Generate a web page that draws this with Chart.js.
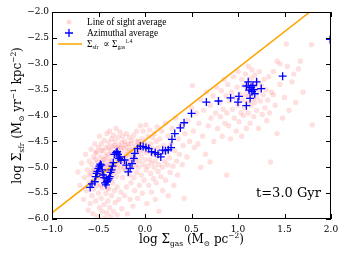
<!DOCTYPE html>
<html>
<head>
<meta charset="utf-8">
<script src="https://cdn.jsdelivr.net/npm/chart.js@4.4.0/dist/chart.umd.min.js"></script>
<style>
html,body{margin:0;padding:0;background:#fff;}
#wrap{width:346px;height:259px;position:relative;}
</style>
</head>
<body>
<div id="wrap"><canvas id="c" width="346" height="259"></canvas></div>
<script>
// ---- DATA ----
const xTickValues = [-1.0, -0.5, 0.0, 0.5, 1.0, 1.5, 2.0];
const yTickValues = [-6.0, -5.5, -5.0, -4.5, -4.0, -3.5, -3.0, -2.5, -2.0];

// Line of sight average (pink)
const losX = [
-0.72,-0.70,-0.68,-0.66,-0.65,-0.64,-0.63,-0.62,-0.61,-0.60,-0.60,-0.59,-0.58,-0.58,-0.57,-0.57,-0.56,-0.56,-0.55,-0.55,
-0.54,-0.54,-0.53,-0.53,-0.52,-0.52,-0.51,-0.51,-0.50,-0.50,-0.50,-0.49,-0.49,-0.48,-0.48,-0.47,-0.47,-0.46,-0.46,-0.46,-0.45,-0.45,-0.44,-0.44,-0.43,-0.43,-0.43,-0.42,-0.42,-0.42,-0.41,-0.41,-0.40,-0.40,-0.40,
-0.39,-0.39,-0.39,-0.38,-0.38,-0.37,-0.37,-0.37,-0.36,-0.36,-0.36,-0.35,-0.35,-0.34,-0.34,-0.34,-0.33,-0.33,-0.32,-0.32,-0.32,-0.31,-0.31,-0.30,-0.30,-0.30,-0.29,-0.29,-0.28,-0.28,-0.28,-0.27,-0.27,-0.26,-0.26,-0.25,-0.25,-0.25,
-0.24,-0.24,-0.23,-0.23,-0.22,-0.22,-0.21,-0.21,-0.20,-0.20,-0.19,-0.19,-0.18,-0.18,-0.17,-0.17,-0.16,-0.16,-0.15,-0.15,-0.14,-0.14,-0.13,-0.13,-0.12,-0.12,-0.11,-0.11,-0.10,-0.10,-0.09,-0.09,-0.08,-0.08,-0.07,-0.07,-0.06,-0.06,-0.05,-0.05,
-0.04,-0.04,-0.03,-0.03,-0.02,-0.02,-0.01,-0.01,0.00,0.00,0.01,0.01,0.02,0.02,0.03,0.03,0.04,0.04,0.05,0.05,0.06,0.06,0.07,0.07,0.08,0.08,0.09,0.09,0.10,0.10,0.11,0.11,0.12,0.12,0.13,0.13,0.14,0.14,0.15,0.15,
0.16,0.17,0.17,0.18,0.19,0.19,0.20,0.21,0.22,0.22,0.23,0.24,0.25,0.25,0.26,0.27,0.28,0.29,0.30,0.31,0.32,0.33,0.34,0.35,0.36,0.37,0.38,0.40,0.41,0.42,0.43,0.45,
0.46,0.48,0.50,0.52,0.53,0.55,0.57,0.58,0.60,0.62,0.63,0.65,0.66,0.68,0.70,0.71,0.73,0.74,0.76,0.77,0.78,0.80,0.81,0.82,0.83,0.84,0.85,0.86,0.88,0.70,0.60,0.51,
0.87,0.88,0.89,0.90,0.91,0.92,0.93,0.94,0.95,0.96,0.97,0.98,0.99,1.00,1.00,1.01,1.02,1.03,1.04,1.04,1.05,1.06,1.06,1.07,1.08,1.08,1.09,1.10,1.10,1.11,1.11,1.12,1.12,1.13,1.13,1.14,1.14,1.15,1.15,1.16,1.16,1.17,1.17,1.18,1.18,1.19,1.20,1.20,1.21,1.22,1.22,1.23,1.24,1.25,1.26,1.27,1.28,1.29,1.30,1.31,1.32,1.33,1.34,1.35,1.36,
1.38,1.40,1.42,1.45,1.48,1.50,1.52,1.53,1.55,1.58,1.60,1.62,1.65,1.67,1.70,1.79,1.80,1.45,1.38,1.42,
-0.53,-0.51,-0.49,-0.47,-0.45,-0.44,-0.42,-0.41,-0.39,-0.38,-0.36,-0.35,-0.33,-0.31,-0.30,-0.29,-0.27,-0.26,-0.24,-0.23,-0.21,-0.20,-0.18,-0.17,-0.15,-0.14,-0.12,-0.10,-0.08,-0.06,-0.48,-0.44,-0.40,-0.36,-0.33,-0.46,-0.52,-0.56,-0.60,-0.38
];
const losY = [
-5.09,-5.35,-4.92,-5.62,-5.20,-4.75,-5.45,-5.05,-5.83,-4.88,-5.30,-5.70,-4.65,-5.12,-5.55,-4.95,-5.90,-5.25,-4.80,-5.42,
-4.55,-5.05,-5.65,-4.85,-5.35,-4.70,-5.95,-5.15,-4.62,-4.98,-5.50,-4.40,-5.78,-4.80,-5.22,-4.55,-5.60,-4.92,-5.40,-5.85,-4.68,-5.10,-4.48,-5.72,-4.85,-5.30,-5.98,-4.62,-5.05,-5.50,-4.35,-5.88,-4.75,-5.20,-5.65,
-4.52,-4.95,-5.42,-4.30,-5.78,-4.68,-5.12,-5.95,-4.45,-4.88,-5.55,-4.60,-5.30,-4.38,-5.02,-5.85,-4.72,-5.45,-4.50,-4.95,-5.68,-4.25,-5.18,-4.62,-5.38,-5.92,-4.42,-4.85,-4.58,-5.08,-5.62,-4.32,-4.78,-4.98,-5.48,-4.52,-4.70,-5.80,
-4.40,-5.20,-4.62,-4.90,-5.55,-4.50,-4.80,-5.05,-4.35,-5.38,-4.68,-5.90,-4.55,-4.95,-5.15,-4.42,-5.62,-4.75,-4.88,-5.30,-4.48,-5.02,-4.65,-5.75,-4.38,-5.20,-4.82,-5.45,-4.58,-4.95,-4.30,-5.10,-4.72,-5.60,-4.50,-5.00,-4.88,-5.35,-4.62,-4.20,
-4.78,-5.15,-4.45,-5.50,-4.95,-4.30,-4.68,-5.25,-4.52,-4.85,-5.05,-4.18,-4.72,-5.70,-4.40,-4.98,-5.35,-4.60,-4.85,-4.28,-5.12,-4.55,-4.92,-5.48,-4.42,-4.75,-5.22,-4.65,-4.35,-5.00,-4.88,-5.62,-4.50,-5.30,-4.78,-4.22,-5.08,-4.62,-4.95,-5.85,
-4.45,-5.18,-4.72,-4.30,-5.00,-5.45,-4.58,-4.88,-4.15,-5.25,-4.70,-4.95,-4.40,-5.55,-4.82,-5.10,-4.55,-4.25,-4.98,-5.35,-4.68,-4.05,-4.88,-5.15,-4.45,-4.75,-4.20,-4.95,-4.58,-5.60,-4.35,-4.80,
-4.10,-4.50,-3.85,-4.30,-4.62,-3.95,-4.55,-4.15,-3.70,-4.40,-3.90,-4.75,-3.55,-4.20,-3.80,-4.05,-3.62,-4.50,-3.95,-3.45,-4.25,-3.75,-4.02,-3.52,-4.40,-3.88,-3.30,-4.15,-5.15,-4.90,-5.00,-3.42,
-3.62,-3.95,-3.40,-4.20,-3.72,-4.45,-3.55,-3.88,-3.25,-4.05,-3.65,-4.30,-3.45,-3.80,-3.15,-4.12,-3.58,-3.95,-3.30,-4.40,-3.70,-3.42,-4.00,-3.85,-3.20,-3.60,-4.25,-3.50,-3.75,-3.05,-3.95,-3.38,-3.62,-4.15,-3.48,-3.28,-3.80,-3.55,-3.12,-3.68,-3.40,-4.02,-3.58,-3.22,-3.75,-3.45,-3.65,-3.90,-3.35,-4.25,-3.52,-3.15,-3.72,-3.42,-3.98,-3.60,-3.30,-3.85,-3.50,-4.10,-3.70,-3.25,-3.95,-4.90,-3.55,
-3.15,-3.80,-2.95,-3.40,-4.05,-3.65,-2.62,-3.05,-3.90,-3.35,-3.20,-3.75,-3.10,-2.95,-3.55,-2.63,-4.18,-3.00,-3.60,-4.35,
-4.72,-4.90,-5.08,-4.68,-4.85,-5.02,-4.78,-4.95,-4.62,-5.05,-4.75,-4.92,-4.58,-4.82,-5.00,-4.68,-4.90,-4.62,-4.85,-5.02,-4.58,-4.75,-4.88,-4.65,-4.55,-4.80,-4.70,-4.85,-4.50,-4.68,-5.35,-5.25,-5.40,-5.22,-5.10,-5.15,-5.20,-5.05,-5.15,-4.85
];

// Azimuthal average (blue crosses)
const aziX = [
-0.59,-0.57,-0.54,-0.53,-0.52,-0.51,-0.50,-0.49,-0.48,-0.47,-0.46,-0.45,-0.44,-0.43,-0.42,-0.41,-0.40,-0.39,-0.38,-0.37,
-0.36,-0.35,-0.34,-0.33,-0.31,-0.30,-0.29,-0.28,-0.27,-0.26,-0.22,-0.20,-0.18,-0.16,-0.14,-0.12,-0.11,-0.08,-0.05,-0.02,
0.01,0.04,0.07,0.11,0.14,0.17,0.19,0.22,0.25,0.28,0.29,0.32,0.38,0.42,0.50,0.66,0.79,0.92,1.00,1.01,
1.09,1.09,1.11,1.12,1.13,1.14,1.15,1.16,1.17,1.18,1.20,1.25,1.48,1.99
];
const aziY = [
-5.39,-5.32,-5.28,-5.18,-5.12,-5.08,-5.02,-4.98,-4.94,-4.96,-5.05,-5.15,-5.20,-5.30,-5.34,-5.28,-5.25,-5.22,-5.18,-5.10,
-5.05,-4.98,-4.91,-4.75,-4.72,-4.70,-4.75,-4.83,-4.80,-4.86,-4.86,-4.96,-5.09,-5.02,-4.93,-4.83,-4.73,-4.64,-4.59,-4.60,
-4.62,-4.64,-4.70,-4.72,-4.75,-4.80,-4.67,-4.68,-4.66,-4.62,-4.46,-4.35,-4.24,-4.14,-3.96,-3.74,-3.72,-3.66,-3.74,-3.63,
-3.81,-3.43,-3.35,-3.51,-3.67,-3.46,-3.54,-3.42,-3.50,-3.58,-3.35,-3.48,-3.24,-2.53
];

// Σsfr ∝ Σgas^1.4 reference line
const lineX = [-1.0, 2.0];
const lineY = [-5.88, -1.68];

// ---- helpers ----
const SERIF = '"DejaVu Serif", "Liberation Serif", serif';
const TIMES = '"Liberation Serif", "DejaVu Serif", serif';
function fmt(v){ const s = Math.abs(v).toFixed(1); return (v < 0 ? '\u2212' : '') + s; }

function drawRich(ctx, parts, x, y, size, align, fam){
  fam = fam || SERIF;
  let w = 0;
  for (const [t,k] of parts){
    ctx.font = (k === 'n' ? size : size*0.62) + 'px ' + fam;
    w += ctx.measureText(t).width;
  }
  let cx = align === 'center' ? x - w/2 : x;
  ctx.textBaseline = 'alphabetic';
  ctx.textAlign = 'left';
  for (const [t,k] of parts){
    ctx.font = (k === 'n' ? size : size*0.62) + 'px ' + fam;
    const dy = k === 'b' ? size*0.22 : (k === 'p' ? -size*0.42 : 0);
    ctx.fillText(t, cx, y + dy);
    cx += ctx.measureText(t).width;
  }
}

const decorPlugin = {
  id: 'decor',
  afterDraw(chart){
    const ctx = chart.ctx;
    const a = chart.chartArea;
    const xs = chart.scales.x, ys = chart.scales.y;
    ctx.save();
    ctx.strokeStyle = '#000';
    ctx.fillStyle = '#000';
    ctx.lineWidth = 1;
    // inward ticks on all four sides
    for (const v of xTickValues){
      const px = Math.round(xs.getPixelForValue(v));
      ctx.fillRect(px, a.bottom - 5, 1, 5);
      ctx.fillRect(px, a.top, 1, 5);
    }
    for (const v of yTickValues){
      const py = Math.round(ys.getPixelForValue(v));
      ctx.fillRect(a.left, py, 5, 1);
      ctx.fillRect(a.right - 5, py, 5, 1);
    }
    // frame
    ctx.strokeRect(a.left + 0.5, a.top + 0.5, a.right - a.left - 1, a.bottom - a.top - 1);

    // x title
    drawRich(ctx, [['log \u03A3','n'],['gas','b'],[' (M','n'],['\u2299','b'],[' pc','n'],['\u22122','p'],[')','n']],
      (a.left + a.right)/2, 243, 12, 'center');
    // y title
    ctx.save();
    ctx.translate(21, (a.top + a.bottom)/2);
    ctx.rotate(-Math.PI/2);
    drawRich(ctx, [['log \u03A3','n'],['sfr','b'],[' (M','n'],['\u2299','b'],[' yr','n'],['\u22121','p'],[' kpc','n'],['\u22122','p'],[')','n']],
      0, 0, 12, 'center');
    ctx.restore();

    // annotation
    ctx.font = '13px ' + SERIF;
    ctx.textAlign = 'left';
    ctx.textBaseline = 'alphabetic';
    ctx.fillText('t=3.0 Gyr', 256, 197);

    // legend
    const lx = 69, tx = 87;
    ctx.fillStyle = 'rgba(255,0,0,0.15)';
    ctx.beginPath(); ctx.arc(lx, 22, 2.5, 0, Math.PI*2); ctx.fill();
    ctx.strokeStyle = '#0000ff'; ctx.lineWidth = 1.3;
    ctx.beginPath();
    ctx.moveTo(lx - 4, 33); ctx.lineTo(lx + 4, 33);
    ctx.moveTo(lx, 29); ctx.lineTo(lx, 37);
    ctx.stroke();
    ctx.strokeStyle = '#ffa500'; ctx.lineWidth = 1.5;
    ctx.beginPath(); ctx.moveTo(58, 44); ctx.lineTo(82, 44); ctx.stroke();
    ctx.fillStyle = '#000';
    ctx.font = '9.4px ' + TIMES;
    ctx.fillText('Line of sight average', tx, 25);
    ctx.fillText('Azimuthal average', tx, 36);
    drawRich(ctx, [['\u03A3','n'],['sfr','b'],['  \u221D \u03A3','n'],['gas','b'],['1.4','p']], tx, 47, 9.4, 'left', TIMES);
    ctx.restore();
  }
};

const losData = losX.map((x,i) => ({x, y: losY[i]}));
const aziData = aziX.map((x,i) => ({x, y: aziY[i]}));
const lineData = lineX.map((x,i) => ({x, y: lineY[i]}));

new Chart(document.getElementById('c'), {
  type: 'scatter',
  data: {
    datasets: [
      { label: 'Azimuthal average', data: aziData, order: 1,
        pointStyle: 'cross', pointRadius: 4, borderColor: '#0000ff', borderWidth: 1.3,
        backgroundColor: '#0000ff', pointHoverRadius: 4 },
      { label: 'Σsfr ∝ Σgas^1.4', data: lineData, type: 'line', order: 2, showLine: true,
        borderColor: '#ffa500', borderWidth: 1.5, pointRadius: 0, fill: false, tension: 0 },
      { label: 'Line of sight average', data: losData, order: 3,
        pointRadius: 2.6, backgroundColor: 'rgba(255,0,0,0.12)', borderColor: 'rgba(255,0,0,0.05)', borderWidth: 0.5 }
    ]
  },
  options: {
    responsive: false,
    animation: false,
    devicePixelRatio: 1,
    layout: { padding: { left: 0, right: 15, top: 12, bottom: 0 } },
    plugins: { legend: { display: false }, tooltip: { enabled: false } },
    scales: {
      x: {
        type: 'linear', min: -1.0, max: 2.0,
        afterFit(s){ s.height = 40; },
        afterBuildTicks(s){ s.ticks = xTickValues.map(v => ({value: v})); },
        grid: { display: false, drawTicks: false },
        border: { display: false },
        ticks: { padding: 5, color: '#000', font: { family: SERIF, size: 9 }, maxRotation: 0, autoSkip: false,
          callback: v => fmt(v) }
      },
      y: {
        type: 'linear', min: -6.0, max: -2.0,
        afterFit(s){ s.width = 52; },
        afterBuildTicks(s){ s.ticks = yTickValues.map(v => ({value: v})); },
        grid: { display: false, drawTicks: false },
        border: { display: false },
        ticks: { padding: 3, color: '#000', font: { family: SERIF, size: 9 }, autoSkip: false,
          callback: v => fmt(v) }
      }
    }
  },
  plugins: [decorPlugin]
});
</script>
</body>
</html>
